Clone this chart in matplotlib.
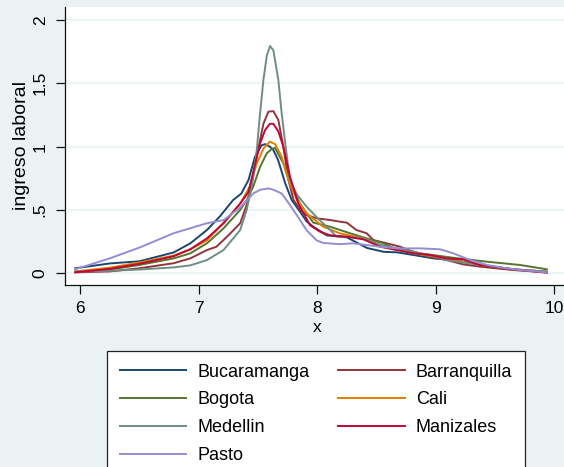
import matplotlib
matplotlib.use("Agg")
import matplotlib.pyplot as plt

plt.rcParams['font.family'] = ['Liberation Sans', 'DejaVu Sans']

# ---- data ----
cities = ["Bucaramanga", "Barranquilla", "Bogota", "Cali", "Medellin", "Manizales", "Pasto"]
colors = ["#1A476F", "#90353B", "#55752F", "#E37E00", "#6E8E84", "#C10534", "#938DD2"]

bucaramanga_x = [5.96, 6.25, 6.5, 6.79, 6.93, 7.07, 7.18, 7.29, 7.36, 7.42, 7.475, 7.53, 7.56, 7.60, 7.63, 7.67, 7.73, 7.785, 7.855, 7.91, 7.967, 8.08, 8.25, 8.42, 8.56, 8.67, 8.81, 8.98, 9.15, 9.37, 9.65, 9.935]
bucaramanga_y = [0.04, 0.078, 0.095, 0.165, 0.237, 0.342, 0.45, 0.578, 0.63, 0.736, 0.92, 1.01, 1.02, 1.0, 0.973, 0.894, 0.71, 0.578, 0.486, 0.41, 0.368, 0.30, 0.284, 0.20, 0.17, 0.166, 0.145, 0.118, 0.105, 0.066, 0.032, 0.013]

barranquilla_x = [5.96, 6.25, 6.5, 6.79, 6.93, 7.07, 7.15, 7.24, 7.35, 7.42, 7.46, 7.50, 7.546, 7.588, 7.63, 7.672, 7.714, 7.757, 7.80, 7.855, 7.911, 7.995, 8.108, 8.19, 8.25, 8.33, 8.417, 8.473, 8.586, 8.70, 8.81, 8.95, 9.09, 9.23, 9.37, 9.65, 9.935]
barranquilla_y = [0.008, 0.015, 0.04, 0.08, 0.118, 0.184, 0.21, 0.29, 0.395, 0.58, 0.763, 0.97, 1.18, 1.276, 1.28, 1.21, 1.0, 0.737, 0.58, 0.5, 0.46, 0.434, 0.421, 0.408, 0.40, 0.342, 0.316, 0.263, 0.237, 0.21, 0.17, 0.13, 0.105, 0.071, 0.053, 0.026, 0.008]

bogota_x = [5.96, 6.25, 6.5, 6.79, 6.93, 7.07, 7.21, 7.35, 7.405, 7.46, 7.518, 7.574, 7.615, 7.644, 7.714, 7.785, 7.855, 7.911, 7.967, 8.108, 8.277, 8.417, 8.557, 8.65, 8.81, 8.867, 9.147, 9.43, 9.71, 9.935]
bogota_y = [0.013, 0.03, 0.066, 0.118, 0.158, 0.237, 0.355, 0.5, 0.578, 0.684, 0.84, 0.947, 0.98, 0.99, 0.868, 0.684, 0.55, 0.474, 0.40, 0.368, 0.316, 0.276, 0.237, 0.197, 0.17, 0.158, 0.123, 0.092, 0.066, 0.032]

cali_x = [5.96, 6.25, 6.5, 6.79, 6.93, 7.07, 7.24, 7.35, 7.43, 7.49, 7.55, 7.60, 7.644, 7.70, 7.756, 7.83, 7.91, 8.05, 8.19, 8.39, 8.53, 8.81, 9.09, 9.37, 9.65, 9.935]
cali_y = [0.015, 0.045, 0.085, 0.14, 0.19, 0.26, 0.43, 0.55, 0.684, 0.868, 0.99, 1.04, 1.02, 0.92, 0.736, 0.578, 0.474, 0.368, 0.316, 0.276, 0.224, 0.158, 0.118, 0.066, 0.032, 0.013]

medellin_x = [5.96, 6.25, 6.5, 6.79, 6.93, 7.07, 7.21, 7.35, 7.405, 7.45, 7.49, 7.518, 7.546, 7.575, 7.602, 7.63, 7.672, 7.70, 7.743, 7.77, 7.83, 7.91, 8.02, 8.11, 8.16, 8.25, 8.39, 8.53, 8.81, 9.01, 9.09, 9.37, 9.65, 9.935]
medellin_y = [0.013, 0.02, 0.03, 0.047, 0.063, 0.105, 0.184, 0.342, 0.5, 0.70, 0.973, 1.263, 1.526, 1.72, 1.794, 1.76, 1.526, 1.263, 0.93, 0.73, 0.62, 0.526, 0.42, 0.342, 0.29, 0.29, 0.276, 0.224, 0.17, 0.13, 0.105, 0.066, 0.032, 0.013]

manizales_x = [5.96, 6.25, 6.5, 6.79, 6.93, 7.07, 7.21, 7.35, 7.42, 7.46, 7.518, 7.56, 7.60, 7.63, 7.672, 7.714, 7.77, 7.84, 7.939, 8.02, 8.108, 8.25, 8.39, 8.53, 8.67, 8.81, 8.95, 9.09, 9.23, 9.37, 9.65, 9.935]
manizales_y = [0.008, 0.035, 0.075, 0.135, 0.19, 0.276, 0.395, 0.55, 0.64, 0.80, 1.026, 1.13, 1.18, 1.18, 1.12, 1.0, 0.763, 0.55, 0.38, 0.33, 0.30, 0.289, 0.268, 0.21, 0.184, 0.158, 0.145, 0.118, 0.11, 0.066, 0.032, 0.005]

pasto_x = [5.96, 6.25, 6.506, 6.787, 7.068, 7.21, 7.35, 7.46, 7.52, 7.59, 7.63, 7.70, 7.77, 7.855, 7.91, 7.995, 8.05, 8.19, 8.30, 8.53, 8.67, 8.87, 9.035, 9.147, 9.29, 9.43, 9.57, 9.71, 9.935]
pasto_y = [0.032, 0.118, 0.205, 0.316, 0.395, 0.42, 0.52, 0.63, 0.66, 0.67, 0.66, 0.63, 0.54, 0.42, 0.34, 0.26, 0.24, 0.23, 0.237, 0.21, 0.197, 0.197, 0.19, 0.158, 0.105, 0.066, 0.044, 0.026, 0.008]

series_x = [bucaramanga_x, barranquilla_x, bogota_x, cali_x, medellin_x, manizales_x, pasto_x]
series_y = [bucaramanga_y, barranquilla_y, bogota_y, cali_y, medellin_y, manizales_y, pasto_y]

xticks = [6, 7, 8, 9, 10]
xticklabels = ["6", "7", "8", "9", "10"]
yticks = [0, 0.5, 1, 1.5, 2]
yticklabels = ["0", ".5", "1", "1.5", "2"]

# ---- figure ----
W, H = 564, 467
bg = "#EAF2F3"
fig = plt.figure(figsize=(W / 100, H / 100), dpi=100, facecolor=bg)
ax = fig.add_axes([64.5 / W, 182 / H, (570 - 64.5) / W, 278 / H])
ax.set_facecolor("white")

handles = {}
for name, col, xs, ys in zip(cities, colors, series_x, series_y):
    ln, = ax.plot(xs, ys, color=col, lw=1.4, solid_joinstyle="round")
    handles[name] = ln

ax.set_xlim(5.869, 10.131)
ax.set_ylim(-0.092, 2.102)
ax.set_xticks(xticks)
ax.set_xticklabels(xticklabels)
ax.set_yticks(yticks)
ax.set_yticklabels(yticklabels, rotation=90, va="center")
ax.grid(axis="y", color=bg, lw=1.2)
ax.set_axisbelow(True)

for s in ["top", "right"]:
    ax.spines[s].set_visible(False)
for s in ["left", "bottom"]:
    ax.spines[s].set_color("#111111")
    ax.spines[s].set_linewidth(0.9)

ax.tick_params(axis="both", direction="out", length=6.5, width=0.9, color="#111111",
               labelsize=12.5)
ax.tick_params(axis="x", pad=5)
ax.tick_params(axis="y", pad=5.5)
ax.set_xlabel("x", fontsize=12.5, labelpad=3)
ax.set_ylabel("ingreso laboral", fontsize=14, labelpad=2)

order = ["Bucaramanga", "Bogota", "Medellin", "Pasto", "Barranquilla", "Cali", "Manizales"]
leg = fig.legend([handles[n] for n in order], order, ncol=2,
                 loc="upper left", bbox_to_anchor=(107 / W, 1 - 351 / H),
                 fontsize=13, frameon=True, fancybox=False, shadow=False,
                 edgecolor="#222222", facecolor="white", framealpha=1,
                 borderaxespad=0, borderpad=0.7, handlelength=3.7,
                 handletextpad=0.6, columnspacing=1.6, labelspacing=0.6)
leg.get_frame().set_linewidth(0.9)
for l in leg.get_lines():
    l.set_linewidth(1.4)

fig.savefig("out.png", dpi=100, facecolor=bg)
